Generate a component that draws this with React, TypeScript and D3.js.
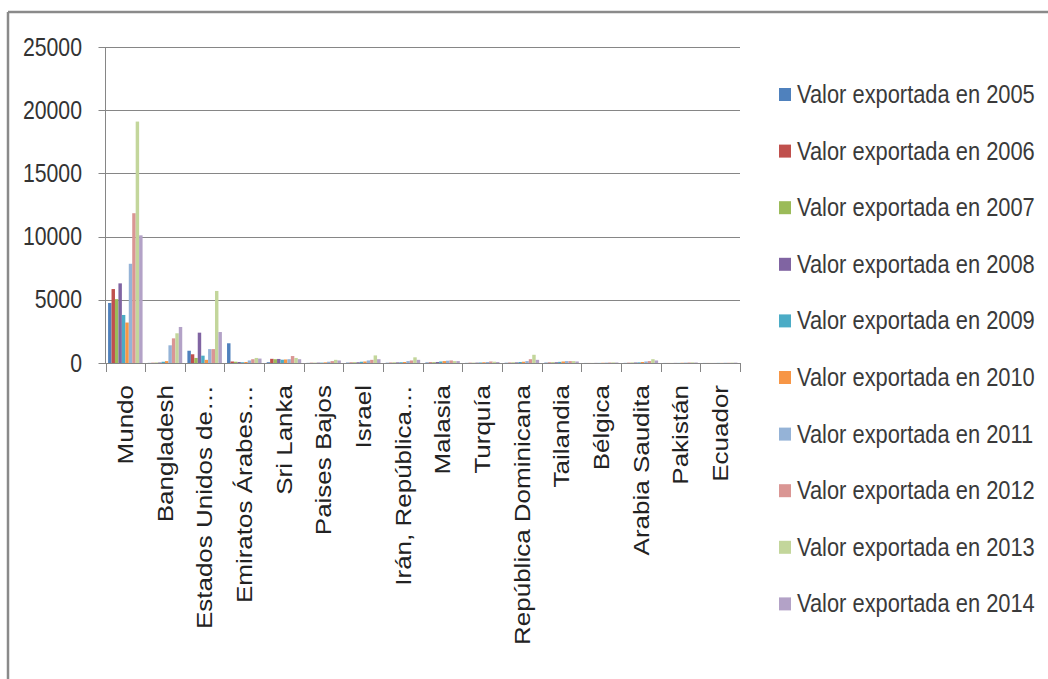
import React, { useEffect, useRef } from 'react';
import * as d3 from 'd3';

// Export values (thousands USD)
const countries = [
  'Mundo', 'Bangladesh', 'Estados Unidos de…', 'Emiratos Árabes…', 'Sri Lanka',
  'Paises Bajos', 'Israel', 'Irán, República…', 'Malasia', 'Turquía',
  'República Dominicana', 'Tailandia', 'Bélgica', 'Arabia Saudita', 'Pakistán', 'Ecuador',
];
const years = ['2005', '2006', '2007', '2008', '2009', '2010', '2011', '2012', '2013', '2014'];

const v2005 = [4750, 10, 970, 1560, 60, 10, 30, 20, 40, 10, 20, 30, 5, 10, 5, 5];
const v2006 = [5850, 20, 690, 120, 330, 20, 40, 30, 50, 20, 30, 40, 5, 20, 5, 5];
const v2007 = [5050, 30, 400, 100, 300, 20, 50, 40, 60, 20, 40, 50, 5, 30, 5, 5];
const v2008 = [6300, 40, 2400, 80, 320, 30, 60, 50, 80, 30, 50, 60, 10, 40, 10, 5];
const v2009 = [3800, 100, 580, 60, 260, 30, 100, 60, 120, 40, 80, 90, 10, 50, 10, 10];
const v2010 = [3200, 150, 250, 80, 280, 50, 120, 80, 150, 60, 100, 120, 20, 80, 20, 10];
const v2011 = [7850, 1400, 1100, 200, 300, 100, 200, 150, 180, 80, 150, 150, 30, 120, 30, 20];
const v2012 = [11850, 1950, 1100, 300, 550, 150, 250, 200, 200, 120, 300, 150, 40, 150, 40, 20];
const v2013 = [19100, 2350, 5700, 400, 400, 250, 600, 450, 150, 100, 650, 150, 50, 300, 50, 30];
const v2014 = [10100, 2850, 2450, 350, 300, 200, 300, 250, 150, 80, 250, 120, 40, 200, 40, 30];
const seriesValues = [v2005, v2006, v2007, v2008, v2009, v2010, v2011, v2012, v2013, v2014];

const yTicks = [0, 5000, 10000, 15000, 20000, 25000];

const seriesColors = [
  '#4f81bd', '#c0504d', '#9bbb59', '#8064a2', '#4bacc6',
  '#f79646', '#95b3d7', '#da9694', '#c3d69b', '#b3a2c7',
];

const App: React.FC = () => {
  const svgRef = useRef<SVGSVGElement>(null);
  const width = 1048;
  const height = 679;

  useEffect(() => {
    if (!svgRef.current) return;
    const svg = d3.select(svgRef.current);
    svg.selectAll('*').remove();

    const font = "'Liberation Sans', Arial, sans-serif";
    const plot = { left: 105.5, right: 740, top: 47, bottom: 363 };
    // the source image is squeezed horizontally, text looks condensed
    const squeeze = 0.85;

    svg.append('rect').attr('width', width).attr('height', height).attr('fill', '#fff');

    // frame (only top and left edges visible in the crop)
    svg.append('line')
      .attr('x1', 8).attr('x2', width).attr('y1', 12).attr('y2', 12)
      .attr('stroke', '#8a8a8a').attr('stroke-width', 2.5);
    svg.append('line')
      .attr('x1', 8).attr('x2', 8).attr('y1', 12).attr('y2', height)
      .attr('stroke', '#8a8a8a').attr('stroke-width', 2.5);

    const x0 = d3.scaleBand<string>()
      .domain(countries)
      .range([plot.left, plot.right])
      .paddingInner(0.13)
      .paddingOuter(0.065);
    const x1 = d3.scaleBand<string>().domain(years).range([0, x0.bandwidth()]);
    const y = d3.scaleLinear().domain([0, 25000]).range([plot.bottom, plot.top]);

    const g = svg.append('g');

    // Gridlines + y tick marks
    yTicks.forEach(t => {
      g.append('line')
        .attr('x1', plot.left - 7).attr('x2', plot.right)
        .attr('y1', Math.round(y(t)) + 0.5).attr('y2', Math.round(y(t)) + 0.5)
        .attr('stroke', '#868686').attr('stroke-width', 1);
    });

    // Y labels
    yTicks.forEach(t => {
      g.append('text')
        .attr('transform', `translate(82,${y(t)}) scale(${squeeze},1)`)
        .attr('text-anchor', 'end')
        .attr('dominant-baseline', 'central')
        .attr('font-family', font)
        .attr('font-size', 25)
        .attr('fill', '#333')
        .text(t);
    });

    // Bars
    seriesValues.forEach((vals, s) => {
      g.append('g')
        .selectAll('rect')
        .data(vals)
        .join('rect')
        .attr('x', (_, i) => (x0(countries[i]) ?? 0) + (x1(years[s]) ?? 0))
        .attr('y', d => y(d))
        .attr('width', x1.bandwidth())
        .attr('height', d => y(0) - y(d))
        .attr('fill', seriesColors[s]);
    });

    // Axes
    g.append('line')
      .attr('x1', plot.left).attr('x2', plot.left)
      .attr('y1', plot.top).attr('y2', plot.bottom)
      .attr('stroke', '#868686');
    const step = x0.step();
    d3.range(countries.length + 1).forEach(i => {
      const xt = Math.round(plot.left + i * step) + 0.5;
      g.append('line')
        .attr('x1', xt).attr('x2', xt)
        .attr('y1', plot.bottom).attr('y2', plot.bottom + 9)
        .attr('stroke', '#868686');
    });

    // Category labels (rotated, reading upwards)
    countries.forEach(c => {
      const cx = (x0(c) ?? 0) + x0.bandwidth() / 2;
      g.append('text')
        .attr('transform', `translate(${cx},385) rotate(-90) scale(1,${squeeze})`)
        .attr('text-anchor', 'end')
        .attr('dominant-baseline', 'central')
        .attr('font-family', font)
        .attr('font-size', 26)
        .attr('fill', '#222')
        .text(c);
    });

    // Legend
    const legend = svg.append('g');
    years.forEach((yr, i) => {
      const ly = 94.5 + i * 56.6;
      legend.append('rect')
        .attr('x', 779).attr('y', ly - 6.5)
        .attr('width', 12).attr('height', 13)
        .attr('fill', seriesColors[i]);
      legend.append('text')
        .attr('transform', `translate(797,${ly}) scale(0.875,1)`)
        .attr('dominant-baseline', 'central')
        .attr('font-family', font)
        .attr('font-size', 25)
        .attr('fill', '#3a3a3a')
        .text(`Valor exportada en ${yr}`);
    });
  }, []);

  return (
    <svg
      ref={svgRef}
      width={width}
      height={height}
      style={{ position: 'absolute', left: 0, top: 0, background: '#fff' }}
    />
  );
};

export default App;
